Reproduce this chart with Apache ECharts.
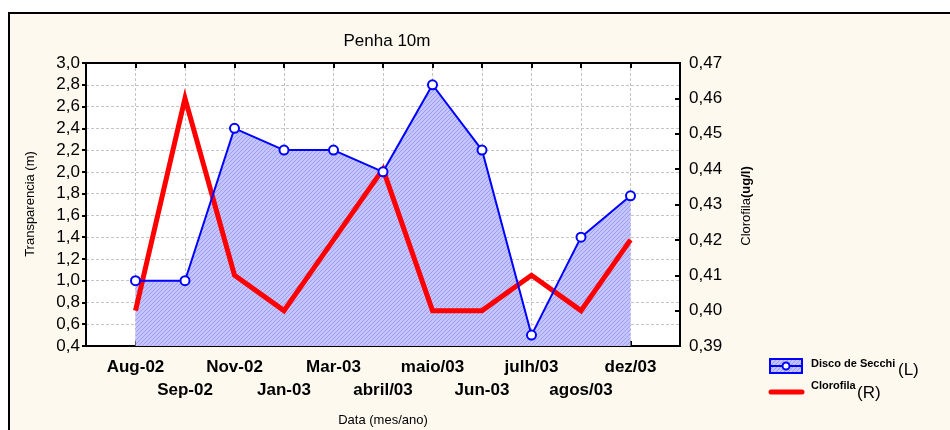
<!DOCTYPE html>
<html>
<head>
<meta charset="utf-8">
<script src="https://cdn.jsdelivr.net/npm/echarts@6/dist/echarts.min.js"></script>
<style>
  html, body { margin: 0; padding: 0; background: #ffffff; }
  #frame { position: absolute; left: 8px; top: 12px; width: 960px; height: 440px; box-sizing: border-box; border: 2px solid #000; background: #fdf9ef; }
  #chart { position: absolute; left: 0; top: 0; width: 950px; height: 430px; }
</style>
</head>
<body>
<div id="frame"></div>
<div id="chart"></div>
<script>
const categories = ['Aug-02', 'Sep-02', 'Nov-02', 'Jan-03', 'Mar-03', 'abril/03', 'maio/03', 'Jun-03', 'julh/03', 'agos/03', 'dez/03'];
const secchi = [1.0, 1.0, 2.4, 2.2, 2.2, 2.0, 2.8, 2.2, 0.5, 1.4, 1.78];
const clorofila = [0.40, 0.46, 0.41, 0.40, 0.42, 0.44, 0.40, 0.40, 0.41, 0.40, 0.42];
const leftTicks = { min: 0.4, max: 3.0, interval: 0.2 };
const rightTicks = { min: 0.39, max: 0.47, interval: 0.01 };

const cats = [''].concat(categories, ['']);
const pad = arr => [null].concat(arr, [null]);

// hatch pattern for the area
const pc = document.createElement('canvas');
pc.width = 4; pc.height = 4;
const pctx = pc.getContext('2d');
pctx.fillStyle = '#c4c4ff';
pctx.fillRect(0, 0, 4, 4);
pctx.fillStyle = '#9e9ef0';
for (let i = 0; i < 4; i++) { pctx.fillRect(i, 3 - i, 1, 1); }

const chart = echarts.init(document.getElementById('chart'), null, { renderer: 'canvas' });
const font = 'Liberation Sans, Arial, sans-serif';
const gridDash = { color: '#c4c4c4', type: [3, 2], width: 1 };

chart.setOption({
  backgroundColor: 'transparent',
  animation: false,
  textStyle: { fontFamily: font },
  title: {
    text: 'Penha 10m', left: 382, top: 28, textAlign: 'center',
    textStyle: { fontFamily: font, fontSize: 17, fontWeight: 'normal', color: '#000' }
  },
  grid: { left: 86, top: 63, right: 270, bottom: 84, show: true, backgroundColor: '#ffffff', borderColor: '#000', borderWidth: 2 },
  xAxis: [{
    type: 'category', data: cats, boundaryGap: false, position: 'bottom',
    axisLine: { lineStyle: { color: '#000', width: 2 } },
    axisTick: { inside: true, length: 5, interval: 0, lineStyle: { color: '#000', width: 2 } },
    splitLine: { show: true, interval: 0, lineStyle: gridDash },
    axisLabel: {
      interval: 0, margin: 10, fontFamily: font, fontSize: 17, fontWeight: 'bold', color: '#000', lineHeight: 23,
      formatter: (v, i) => (i % 2 === 0 ? '\n' + v : v)
    }
  }, {
    type: 'category', data: cats, boundaryGap: false, position: 'top',
    axisLine: { lineStyle: { color: '#000', width: 2 } },
    axisTick: { inside: true, length: 5, interval: 0, lineStyle: { color: '#000', width: 2 } },
    axisLabel: { show: false }
  }],
  yAxis: [{
    type: 'value', position: 'left', min: leftTicks.min, max: leftTicks.max, interval: leftTicks.interval,
    axisLine: { show: true, lineStyle: { color: '#000', width: 2 } },
    axisTick: { show: true, inside: false, length: 4, lineStyle: { color: '#000', width: 2 } },
    splitLine: { show: true, lineStyle: gridDash },
    axisLabel: { margin: 6, fontFamily: font, fontSize: 17, color: '#000', formatter: v => v.toFixed(1).replace('.', ',') }
  }, {
    type: 'value', position: 'right', min: rightTicks.min, max: rightTicks.max, interval: rightTicks.interval,
    axisLine: { show: true, lineStyle: { color: '#000', width: 2 } },
    axisTick: { show: true, inside: true, length: 5, lineStyle: { color: '#000', width: 2 } },
    splitLine: { show: false },
    axisLabel: { margin: 9, fontFamily: font, fontSize: 17, color: '#000', formatter: v => v.toFixed(2).replace('.', ',') }
  }],
  series: [{
    name: 'Disco de Secchi area', type: 'line', xAxisIndex: 0, yAxisIndex: 0, data: pad(secchi),
    showSymbol: false, symbol: 'none', lineStyle: { width: 0, opacity: 0 },
    areaStyle: { color: { image: pc, repeat: 'repeat' }, opacity: 1, origin: 'start' }, z: 1, silent: true
  }, {
    name: 'Clorofila', type: 'line', xAxisIndex: 0, yAxisIndex: 1, data: pad(clorofila),
    symbol: 'none', lineStyle: { color: '#ff0000', width: 5, join: 'miter' }, z: 3
  }, {
    name: 'Disco de Secchi', type: 'line', xAxisIndex: 0, yAxisIndex: 0, data: pad(secchi),
    symbol: 'circle', symbolSize: 9, itemStyle: { color: '#ffffff', borderColor: '#0000ff', borderWidth: 2 },
    lineStyle: { color: '#0000ff', width: 2 }, z: 4
  }],
  graphic: [
    { type: 'text', x: 30, y: 204, rotation: Math.PI / 2, style: { text: 'Transparencia (m)', font: '13px ' + font, fill: '#000', textAlign: 'center', textVerticalAlign: 'middle' } },
    { type: 'text', x: 746, y: 206, rotation: Math.PI / 2,
      style: { text: '{n|Clorofila}{b|(ug/l)}', textAlign: 'center', textVerticalAlign: 'middle',
        rich: { n: { fontSize: 13, fontFamily: font, fill: '#000' }, b: { fontSize: 13, fontWeight: 'bold', fontFamily: font, fill: '#000' } } } },
    { type: 'text', x: 383, y: 420, style: { text: 'Data (mes/ano)', font: '13px ' + font, fill: '#000', textAlign: 'center', textVerticalAlign: 'middle' } },
    // legend
    { type: 'rect', shape: { x: 770, y: 359, width: 32, height: 14 }, style: { fill: { image: pc, repeat: 'repeat' }, stroke: '#0000ff', lineWidth: 2 } },
    { type: 'line', shape: { x1: 770, y1: 366, x2: 802, y2: 366 }, style: { stroke: '#0000ff', lineWidth: 2 } },
    { type: 'circle', shape: { cx: 786, cy: 366, r: 3.5 }, style: { fill: '#fff', stroke: '#0000ff', lineWidth: 2 } },
    { type: 'line', shape: { x1: 771, y1: 392, x2: 802, y2: 392 }, style: { stroke: '#ff0000', lineWidth: 5, lineCap: 'round' } },
    { type: 'text', x: 811, y: 364, style: { text: 'Disco de Secchi', font: 'bold 11px ' + font, fill: '#000', textVerticalAlign: 'middle' } },
    { type: 'text', x: 898, y: 370, style: { text: '(L)', font: '17px ' + font, fill: '#000', textVerticalAlign: 'middle' } },
    { type: 'text', x: 811, y: 386, style: { text: 'Clorofila', font: 'bold 11px ' + font, fill: '#000', textVerticalAlign: 'middle' } },
    { type: 'text', x: 857, y: 393, style: { text: '(R)', font: '17px ' + font, fill: '#000', textVerticalAlign: 'middle' } }
  ]
});
</script>
</body>
</html>
